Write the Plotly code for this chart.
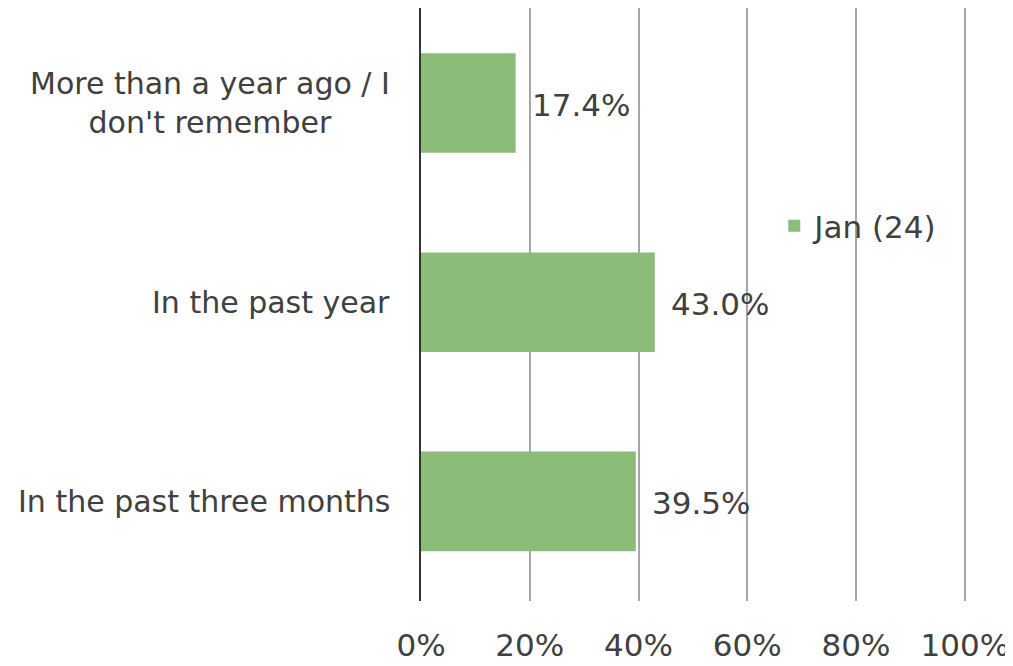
import plotly.graph_objects as go

categories = ["In the past three months", "In the past year", "More than a year ago / I<br>don't remember"]
values = [0.395, 0.430, 0.174]
series_name = "Jan (24)"
tick_vals = [0, 0.2, 0.4, 0.6, 0.8, 1.0]
tick_text = ["0%", "20%", "40%", "60%", "80%", "100%"]

FONT = "DejaVu Sans, sans-serif"
FS = 31
TXT = "#404040"

fig = go.Figure()
fig.add_trace(go.Bar(
    y=categories, x=values, orientation="h", name=series_name,
    marker=dict(color="#8bbd78", line=dict(width=0)),
    width=0.5, showlegend=True,
))
# value labels
for c, v in zip(categories, values):
    fig.add_annotation(x=v, y=c, text=f"{v*100:.1f}%", showarrow=False,
                       xanchor="left", xshift=14, yshift=-2,
                       font=dict(family=FONT, size=FS, color=TXT))
# category labels (centered multi-line, like the reference)
for c in categories:
    fig.add_annotation(x=0, xref="paper", y=c, yref="y", text=c, showarrow=False,
                       xanchor="right", xshift=-29, align="center",
                       font=dict(family=FONT, size=30, color=TXT))

fig.update_layout(
    width=1013, height=666,
    margin=dict(l=413, r=54, t=0, b=73),
    paper_bgcolor="white", plot_bgcolor="white",
    font=dict(family=FONT, size=FS, color=TXT),
    bargap=0.5,
    legend=dict(x=0.647, y=0.632, xanchor="left", yanchor="middle",
                bgcolor="rgba(0,0,0,0)", font=dict(family=FONT, size=FS, color=TXT),
                itemwidth=30),
    xaxis=dict(range=[0, 1.004], tickvals=tick_vals, ticktext=tick_text,
               showgrid=True, gridcolor="#a6a6a6", gridwidth=2,
               zeroline=False, showline=False, automargin=False,
               ticks="outside", ticklen=17, tickcolor="rgba(0,0,0,0)",
               tickfont=dict(family=FONT, size=FS, color=TXT)),
    yaxis=dict(range=[-0.5, 2.477], showgrid=False, zeroline=False,
               showline=True, linecolor="#333333", linewidth=2, automargin=False,
               showticklabels=False, ticks=""),
)
fig.write_html("out.html")
